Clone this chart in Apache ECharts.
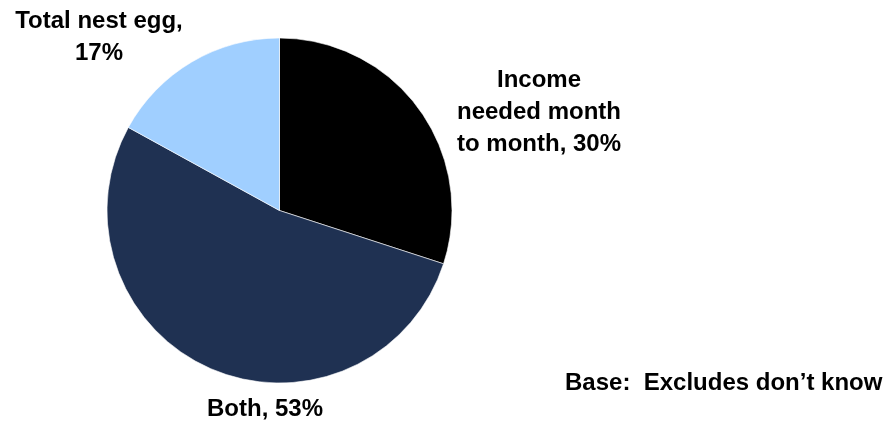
<!DOCTYPE html>
<html>
<head>
<meta charset="utf-8">
<script src="https://cdn.jsdelivr.net/npm/echarts@6/dist/echarts.min.js"></script>
<style>
  html, body { margin: 0; padding: 0; background: #ffffff; }
  #chart { width: 896px; height: 424px; }
</style>
</head>
<body>
<div id="chart"></div>
<script>
// Slice data, clockwise from 12 o'clock
const categories = ['Income\nneeded month\nto month', 'Both', 'Total nest egg'];
const shares = [30, 53, 17];
const joiners = [', ', ', ', ',\n'];
const sliceColors = ['#000000', '#1f3152', '#a0cfff'];
const baseNote = 'Base:  Excludes don\u2019t know';

const FONT = '"Liberation Sans", Arial, sans-serif';

// Where each label block sits (top-centre of the text block)
const labelAnchors = [
  { x: 539, y: 64 },
  { x: 265, y: 393 },
  { x: 99, y: 5 }
];

const chart = echarts.init(document.getElementById('chart'), null, { renderer: 'canvas' });

chart.setOption({
  animation: false,
  backgroundColor: '#ffffff',
  series: [{
    type: 'pie',
    center: [279.5, 210.5],
    radius: 172.5,
    startAngle: 90,
    clockwise: true,
    avoidLabelOverlap: false,
    data: categories.map((name, i) => ({
      name: name,
      value: shares[i],
      itemStyle: { color: sliceColors[i] }
    })),
    itemStyle: { borderColor: '#ffffff', borderWidth: 0.6 },
    label: {
      show: true,
      position: 'outside',
      formatter: p => p.name + joiners[p.dataIndex] + p.value + '%',
      fontFamily: FONT,
      fontWeight: 'bold',
      fontSize: 24,
      lineHeight: 32,
      color: '#000000',
      align: 'center'
    },
    labelLine: { show: false },
    labelLayout: p => ({
      x: labelAnchors[p.dataIndex].x,
      y: labelAnchors[p.dataIndex].y,
      align: 'center',
      verticalAlign: 'top'
    }),
    emphasis: { disabled: true }
  }],
  graphic: [{
    type: 'text',
    left: 565,
    top: 371,
    style: {
      text: baseNote,
      font: 'bold 24px ' + FONT,
      fill: '#000000'
    }
  }]
});
</script>
</body>
</html>
